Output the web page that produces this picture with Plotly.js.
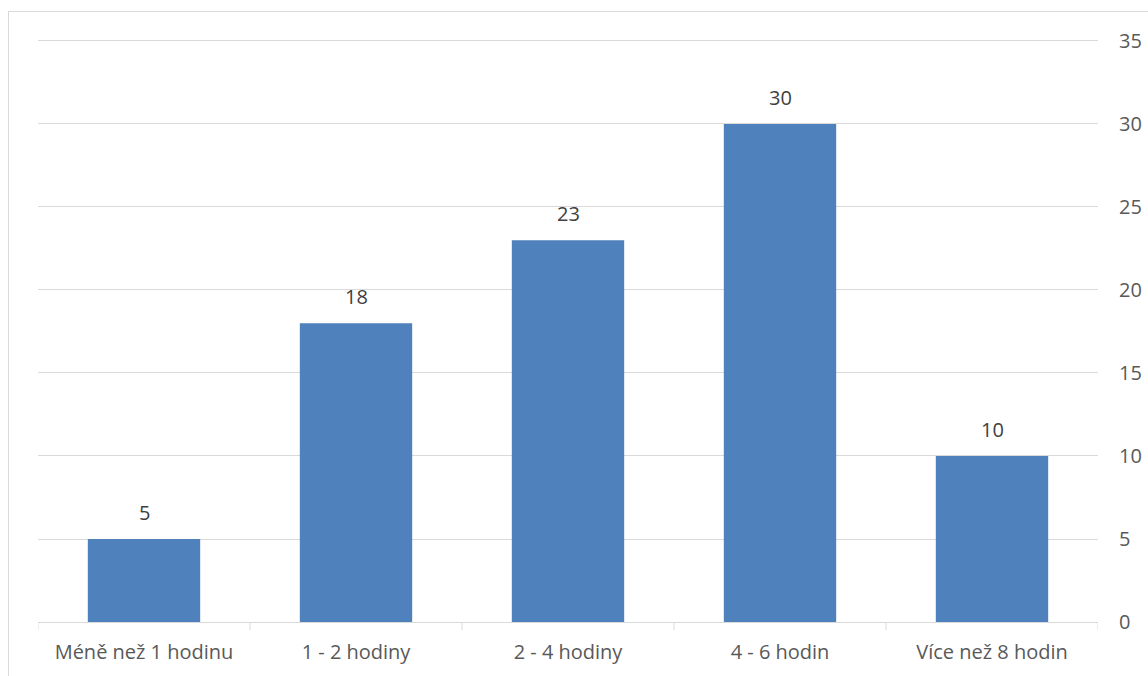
<!DOCTYPE html>
<html>
<head>
<meta charset="utf-8">
<script src="https://cdn.plot.ly/plotly-3.0.1.min.js"></script>
<style>
  html, body { margin: 0; padding: 0; background: #fff; }
  #wrap { position: relative; width: 1148px; height: 676px; overflow: hidden; }
  #frame { position: absolute; left: 8px; top: 11px; width: 1160px; height: 700px;
           border: 1px solid #d9d9d9; box-sizing: border-box; pointer-events: none; }
  #chart { position: absolute; left: 0; top: 0; width: 1148px; height: 676px; }
</style>
</head>
<body>
<div id="wrap">
  <div id="chart"></div>
  <div id="frame"></div>
</div>
<script>
// Hours per day – number of respondents
const categories = ['Méně než 1 hodinu', '1 - 2 hodiny', '2 - 4 hodiny', '4 - 6 hodin', 'Více než 8 hodin'];
const counts = [5, 18, 23, 30, 10];
const yTicks = [0, 5, 10, 15, 20, 25, 30, 35];

const FONT = 'Open Sans, Noto Sans, sans-serif';

const trace = {
  type: 'bar',
  x: categories,
  y: counts,
  marker: { color: '#4f81bd', line: { width: 0 } },
  hoverinfo: 'x+y'
};

// value labels above each bar
const labels = categories.map((c, i) => ({
  x: c, y: counts[i], xref: 'x', yref: 'y',
  text: String(counts[i]),
  showarrow: false, yanchor: 'bottom', yshift: 11,
  font: { family: FONT, size: 20, color: '#404040' }
}));

// category separators below the axis line
const sepShapes = [];
for (let k = 0; k <= categories.length; k++) {
  sepShapes.push({
    type: 'line', xref: 'x', yref: 'paper',
    x0: k - 0.5, x1: k - 0.5, y0: 0, y1: -8 / 586,
    line: { color: '#d9d9d9', width: 1 }
  });
}

const layout = {
  width: 1148, height: 676,
  margin: { l: 38, r: 50, t: 36, b: 54 },
  paper_bgcolor: '#ffffff', plot_bgcolor: '#ffffff',
  showlegend: false,
  bargap: 0.47,
  xaxis: {
    type: 'category',
    range: [-0.5, categories.length - 0.5],
    showgrid: false, zeroline: false,
    showline: true, linecolor: '#d9d9d9', linewidth: 1,
    ticks: '', ticklabelstandoff: 12,
    tickfont: { family: FONT, size: 20, color: '#595959' },
    fixedrange: true
  },
  yaxis: {
    side: 'right',
    range: [0, 35.3],
    tickvals: yTicks,
    ticktext: yTicks.map(String),
    showgrid: true, gridcolor: '#d9d9d9', gridwidth: 1,
    zeroline: false, showline: false,
    ticks: '', ticklabelstandoff: 20,
    tickfont: { family: FONT, size: 20, color: '#595959' },
    fixedrange: true
  },
  annotations: labels,
  shapes: sepShapes
};

Plotly.newPlot('chart', [trace], layout, { displayModeBar: false, staticPlot: true });
</script>
</body>
</html>
